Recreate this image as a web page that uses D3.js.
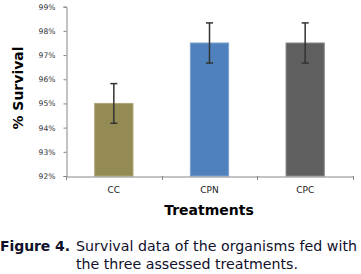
<!DOCTYPE html>
<html><head><meta charset="utf-8">
<script src="https://cdn.jsdelivr.net/npm/d3@7/dist/d3.min.js"></script>
<style>body{margin:0;background:#fff}svg{display:block}</style>
</head><body>
<svg id="c" width="361" height="274"></svg>
<script>
const categories = ["CC", "CPN", "CPC"];
const values = [0.950, 0.975, 0.975];
const errors = [0.0082, 0.0083, 0.0083];
const colors = ["#948A54", "#4F81BD", "#5F5F5F"];
const strokes = ["#ADA478", "#7FA3D0", "#8A8A8A"];
const yTicks = [0.92, 0.93, 0.94, 0.95, 0.96, 0.97, 0.98, 0.99];

const svg = d3.select("#c");
const x = d3.scaleBand().domain(categories).range([66, 353]).paddingInner(0.6).paddingOuter(0.3);
const y = d3.scaleLinear().domain([0.92, 0.99]).range([176, 6.7]);

// bars
svg.selectAll("rect.bar").data(categories).enter().append("rect")
  .attr("x", d => x(d)).attr("width", x.bandwidth())
  .attr("y", (d, i) => y(values[i])).attr("height", (d, i) => y(0.92) - y(values[i]))
  .attr("fill", (d, i) => colors[i]).attr("stroke", (d, i) => strokes[i]).attr("stroke-width", 1);

// y axis
const ya = svg.append("g").attr("transform", "translate(66.5,0)")
  .call(d3.axisLeft(y).tickValues(yTicks).tickFormat(d3.format(".0%")).tickSize(3).tickPadding(8));
ya.select(".domain").attr("stroke", "#868686");
ya.selectAll(".tick line").attr("stroke", "#868686");
ya.selectAll("text").attr("font-family", "DejaVu Sans").attr("font-size", "7.6px").attr("fill", "#333");

// x axis
const xa = svg.append("g").attr("transform", "translate(0,176.5)")
  .call(d3.axisBottom(x).tickSize(0).tickPadding(10));
xa.select(".domain").attr("stroke", "#868686");
xa.selectAll("text").attr("font-family", "DejaVu Sans").attr("font-size", "9px").attr("fill", "#222");
// category boundary ticks
const bounds = [66, 66 + (353 - 66) / 3, 66 + 2 * (353 - 66) / 3, 353];
svg.selectAll("line.xt").data(bounds).enter().append("line")
  .attr("x1", d => Math.round(d) + 0.5).attr("x2", d => Math.round(d) + 0.5)
  .attr("y1", 176).attr("y2", 180).attr("stroke", "#868686");

// error bars
const eb = svg.append("g").attr("stroke", "#333").attr("stroke-width", 1.5);
categories.forEach((c, i) => {
  const cx = x(c) + x.bandwidth() / 2;
  eb.append("line").attr("x1", cx).attr("x2", cx).attr("y1", y(values[i] + errors[i])).attr("y2", y(values[i] - errors[i]));
  [values[i] + errors[i], values[i] - errors[i]].forEach(v => {
    eb.append("line").attr("x1", cx - 3.5).attr("x2", cx + 3.5).attr("y1", y(v)).attr("y2", y(v));
  });
});

// axis titles
svg.append("text").attr("transform", "translate(23,88) rotate(-90)")
  .attr("text-anchor", "middle").attr("font-family", "DejaVu Sans").attr("font-weight", "bold")
  .attr("font-size", "14px").attr("fill", "#000").text("% Survival");
svg.append("text").attr("x", 209).attr("y", 215)
  .attr("text-anchor", "middle").attr("font-family", "DejaVu Sans").attr("font-weight", "bold")
  .attr("font-size", "14px").attr("fill", "#000").text("Treatments");

// caption
svg.append("text").attr("x", 0).attr("y", 251).attr("font-family", "DejaVu Sans").attr("font-size", "14px")
  .attr("font-weight", "bold").attr("fill", "#10102a").attr("textLength", 70).attr("lengthAdjust", "spacing").text("Figure 4.");
svg.append("text").attr("x", 76).attr("y", 251).attr("font-family", "DejaVu Sans").attr("font-size", "14.2px")
  .attr("fill", "#10102a").attr("textLength", 281).attr("lengthAdjust", "spacing").text("Survival data of the organisms fed with");
svg.append("text").attr("x", 76).attr("y", 269).attr("font-family", "DejaVu Sans").attr("font-size", "14.2px")
  .attr("fill", "#10102a").attr("textLength", 222).attr("lengthAdjust", "spacing").text("the three assessed treatments.");
</script>
</body></html>
